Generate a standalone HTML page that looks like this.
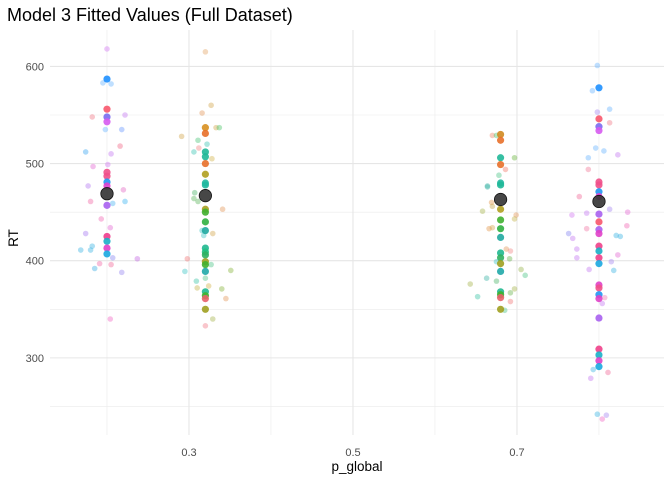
<!DOCTYPE html>
<html><head><meta charset="utf-8"><style>
html,body{margin:0;padding:0;background:#fff}
svg{display:block;font-family:"Liberation Sans",Arial,sans-serif}
</style></head><body>
<svg id="chart" width="664" height="480" viewBox="0 0 664 480" xmlns="http://www.w3.org/2000/svg">
<text x="7" y="21" font-size="18" fill="#000">Model 3 Fitted Values (Full Dataset)</text>
<g id="grid"></g>
<g id="faint"></g>
<g id="solid"></g>
<g id="means"></g>
<g id="axes"></g>
<text x="357" y="471" font-size="13.5" text-anchor="middle" fill="#000">p_global</text>
<text transform="translate(18,238) rotate(-90)" font-size="13.5" text-anchor="middle" fill="#000">RT</text>
</svg>
<script>
const xTicks=[0.3,0.5,0.7];
const xMinor=[0.2,0.4,0.6,0.8];
const yTicks=[300,400,500,600];
const yMinor=[250,350,450,550];
const groups=[0.2,0.32,0.68,0.8];
const meanRT=[469,467,463,461];
// fitted values (solid) per group
const fitG=[0,0,0,0,0,0,0,0,0,0,0,0,0, 1,1,1,1,1,1,1,1,1,1,1,1,1,1,1,1,1,1,1,1,1,1, 2,2,2,2,2,2,2,2,2,2,2,2,2,2,2,2,2,2, 3,3,3,3,3,3,3,3,3,3,3,3,3,3,3,3,3,3,3,3,3,3,3,3,3];
const fitRT=[587,556,548,543,491,487,481,477,457,425,420,413,407,
537,531,512,507,500,489,480,478,453,450,440,431,413,409,406,399,396,389,368,364,361,350,
530,524,506,499,480,478,453,442,433,424,408,403,397,389,368,365,362,350,
578,546,538,534,481,478,471,466,448,440,432,428,415,410,403,397,375,372,365,361,341,309,303,297,291];
const fitCol=["#1e90ff","#f8566b","#7a6cf0","#d65af0","#f0508a","#f0508a","#2196f3","#e040d0","#a860f0","#f03c8c","#1ab0c8","#e040c8","#1aa8e0",
"#d89020","#e8702a","#20b898","#20b898","#e8702a","#b0a020","#20b8a0","#20b8a0","#a8a020","#40b030","#30b040","#20a8a0","#20b890","#20c080","#30b060","#a0a020","#40b030","#20a8a8","#20b890","#40b030","#e8606a","#a0a020",
"#d08a20","#e8702a","#20b898","#e8702a","#20b8a0","#20b898","#b0a020","#40b030","#30b040","#20a8a0","#20b890","#30b060","#a0a020","#20a8a8","#20b890","#40b030","#e8606a","#a0a020",
"#1e90ff","#f8566b","#7a6cf0","#d65af0","#f0508a","#f0508a","#2196f3","#e040d0","#a860f0","#f8566b","#a860f0","#e040c8","#f0408a","#1ab0c8","#f0408a","#1aa8e0","#e040c8","#f0508a","#2196f3","#e040c8","#a860f0","#f0408a","#1ab0c8","#e040c8","#1aa8e0"];
// raw observations (faint, jittered)
const obsX=[.200,.195,.205,.182,.222,.198,.218,.174,.205,.216,.183,.201,.177,.220,.180,.207,.222,.193,.204,.174,.182,.168,.180,.207,.237,.191,.205,.185,.218,.204,
.320,.327,.316,.333,.337,.291,.311,.322,.312,.306,.328,.307,.306,.311,.341,.316,.329,.318,.298,.327,.351,.295,.320,.309,.324,.310,.340,.345,.329,.320,
.670,.675,.697,.686,.678,.664,.664,.669,.670,.658,.699,.697,.666,.670,.687,.692,.691,.675,.705,.710,.663,.675,.643,.697,.692,.652,.692,.685,
.798,.792,.798,.813,.813,.796,.806,.823,.787,.787,.776,.813,.767,.785,.835,.785,.834,.763,.768,.821,.826,.773,.773,.823,.815,.788,.818,.807,.804,.793,.811,.790,.798,.809,.804];
const obsRT=[618,583,582,548,550,535,535,512,510,518,497,499,477,473,461,459,461,443,434,428,415,411,411,403,402,397,396,392,388,340,
615,560,552,537,537,528,524,520,516,512,505,470,464,461,453,431,428,426,402,396,390,389,382,379,374,372,371,361,340,333,
529,529,506,494,488,477,476,460,456,451,447,443,433,434,412,410,402,399,391,385,382,379,376,371,367,363,358,349,
601,575,553,556,542,516,513,509,506,494,466,453,447,449,450,433,436,428,423,426,425,412,403,406,399,391,390,362,356,288,285,279,242,241,237];
const obsCol=["#d070f0","#60b0ff","#60b0ff","#f07080","#c070f0","#60b0ff","#6090ff","#30a0f0","#c070f0","#f06080","#e060d0","#d070f0","#b070f0","#e060c0","#f060a0","#40b0f0","#30b0f0","#f060b0","#e060d0","#a070f0","#30b0e0","#30b0e0","#30b0e0","#8080f0","#c060e0","#f060a0","#f06090","#30a8e0","#9080f0","#f060c0",
"#e0a060","#d0a040","#e09050","#d0a040","#40c060","#d0a040","#40c070","#30c0b0","#f08080","#30c0b0","#d0b040","#40b060","#50b050","#50b050","#e09050","#30c0c0","#d0a040","#30c0c0","#f07070","#40c080","#80b030","#30c0c0","#40c080","#30c0a0","#d0b040","#c0b040","#80b030","#e09050","#a0b040","#f07080",
"#f08060","#40c060","#60b030","#f07060","#40c080","#30b0a0","#30b0a0","#e09040","#c0a040","#a0b040","#e09050","#c0b040","#e09040","#d0a040","#e09050","#f08080","#60b040","#30c0c0","#90b040","#40c080","#30b0a0","#40b060","#a0b040","#a0b040","#60b040","#30c0a0","#f07070","#40c080",
"#60b0ff","#60b0ff","#a080f0","#60b0ff","#f07080","#60b0ff","#60b0ff","#c070f0","#60b0ff","#f07090","#f06090","#a080f0","#d070f0","#c070f0","#e060d0","#f070a0","#f060b0","#8080f0","#c070f0","#30b0e0","#30b0e0","#c070f0","#c070f0","#e060d0","#a080f0","#c070f0","#30b0e0","#f070b0","#c070f0","#30b0e0","#f06090","#c070f0","#30b0e0","#a080f0","#f060c0"];

const L=50,R=664,T=30,B=435;
const xMin=0.1305,xMax=0.8793,yMin=220.6,yMax=637.5;
const sx=v=>L+(v-xMin)/(xMax-xMin)*(R-L);
const sy=v=>B-(v-yMin)/(yMax-yMin)*(B-T);
const NS="http://www.w3.org/2000/svg";
function mk(tag,parent,attrs){const e=document.createElementNS(NS,tag);for(const k in attrs)e.setAttribute(k,attrs[k]);parent.appendChild(e);return e;}
const grid=document.getElementById('grid'),axes=document.getElementById('axes');
xMinor.forEach(v=>{const e=mk('line',grid,{x1:sx(v),x2:sx(v),y1:T,y2:B,stroke:'#ebebeb','stroke-width':0.6});

});
yMinor.forEach(v=>{const e=mk('line',grid,{x1:L,x2:R,y1:sy(v),y2:sy(v),stroke:'#ebebeb','stroke-width':0.6});

});
xTicks.forEach(v=>{const e=mk('line',grid,{x1:sx(v),x2:sx(v),y1:T,y2:B,stroke:'#e6e6e6','stroke-width':1.1});


const t=mk('text',axes,{x:sx(v),y:456,'font-size':11,'text-anchor':'middle',fill:'#4d4d4d'});t.textContent=String(v);

});
yTicks.forEach(v=>{const e=mk('line',grid,{x1:L,x2:R,y1:sy(v),y2:sy(v),stroke:'#e6e6e6','stroke-width':1.1});


const t=mk('text',axes,{x:44,y:sy(v)+4,'font-size':11,'text-anchor':'end',fill:'#4d4d4d'});t.textContent=String(v);

});
const faint=document.getElementById('faint');
obsX.forEach((x,i)=>{const c=mk('circle',faint,{cx:sx(x),cy:sy(obsRT[i]),r:2.8,fill:obsCol[i],'fill-opacity':0.4});

});
const solid=document.getElementById('solid');
fitRT.forEach((v,i)=>{const c=mk('circle',solid,{cx:sx(groups[fitG[i]]),cy:sy(v),r:3.6,fill:fitCol[i],'fill-opacity':0.9});

});
const means=document.getElementById('means');
meanRT.forEach((v,i)=>{const c=mk('circle',means,{cx:sx(groups[i]),cy:sy(v),r:6.2,fill:'#333','fill-opacity':0.9,stroke:'#111','stroke-width':0.8});

});
</script>
</body></html>
